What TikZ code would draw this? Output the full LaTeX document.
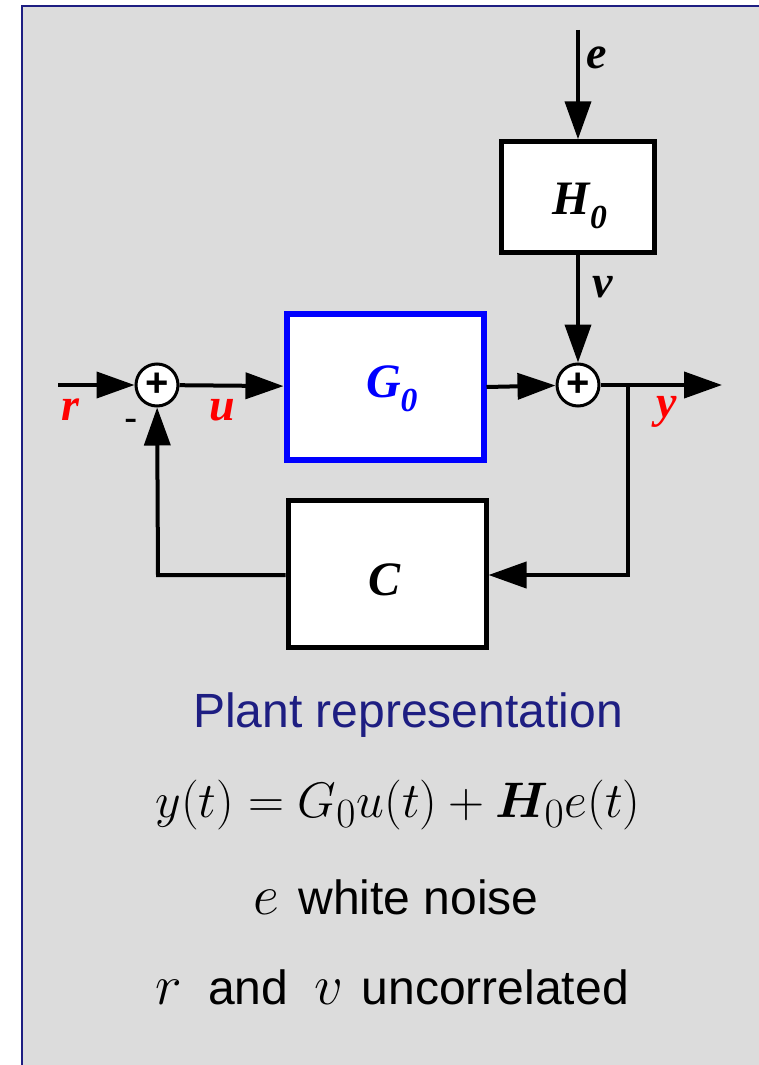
\documentclass[tikz,border=0pt]{standalone}
\usepackage{bm}
\usepackage{graphicx}
\usepackage[no-math]{fontspec}
\setmainfont{Liberation Sans}
\newfontfamily\tms{Liberation Serif}
\usetikzlibrary{arrows.meta}
\definecolor{navy}{RGB}{30,30,130}
\definecolor{bg}{RGB}{220,220,220}
\newcommand{\mymathbig}[1]{\scalebox{1.18}{$#1$}}
\tikzset{
  blk/.style={draw, fill=white, inner sep=0pt},
  sumj/.style={draw, circle, fill=white, line width=3pt, minimum size=42pt, inner sep=0pt,
    font=\fontsize{40}{40}\selectfont\bfseries},
  sig/.style={line width=4pt, -{Triangle[length=38pt,width=26pt]}},
  lbl/.style={font=\fontsize{46}{50}\selectfont\tms\bfseries\itshape, inner sep=0pt},
  blbl/.style={font=\fontsize{48}{50}\selectfont\tms\bfseries\itshape, inner sep=0pt},
  txt/.style={font=\Huge, scale=1.93, transform shape, inner sep=0pt},
}
\begin{document}
\begin{tikzpicture}[x=1pt,y=-1pt]
\useasboundingbox (0,0) rectangle (758,1065);
% frame
\fill[bg] (22,6) rectangle (760,1067);
\draw[navy, line width=2.5pt] (22,1070) -- (22,6) -- (762,6);
% blocks
\node[blk, line width=4.5pt, minimum width=153pt, minimum height=111pt] (H) at (578,197) {};
\node[blbl] at (580,206) {H\textsubscript{0}};
\node[blk, draw=blue, line width=6pt, minimum width=197pt, minimum height=146pt] (G) at (385,387) {};
\node[blbl, text=blue] at (392,389) {G\textsubscript{0}};
\node[blk, line width=5pt, minimum width=198pt, minimum height=147pt] (C) at (387,574) {};
\node[blbl] at (385,580) {C};
% summing junctions
\node[sumj] (S1) at (157,385) {+};
\node[sumj] (S2) at (578,385) {+};
% coordinates
\coordinate (rin) at (58,385);
\coordinate (ein) at (578,30);
\coordinate (yout) at (722,385);
\coordinate (br) at (628,385);
\coordinate (fb1) at (628,575);
\coordinate (fb2) at (158,575);
% connections
\draw[sig] (rin) -- (S1);
\draw[sig] (S1) -- (G);
\draw[sig] (G.east) -- (S2);
\draw[sig] (S2) -- (yout);
\draw[sig] (ein) -- (H);
\draw[sig] (H) -- (S2);
\draw[sig] (br) -- (fb1) -- (C.east |- fb1);
\draw[sig] (C.west |- fb2) -- (fb2) -- (S1);
% labels
\node[lbl, text=red] at (70,410) {r};
\node[font=\fontsize{40}{40}\selectfont] at (131,425) {-};
\node[lbl, text=red] at (222,410) {u};
\node[lbl, text=red] at (667,412) {y};
\node[lbl] at (597,58) {e};
\node[lbl] at (603,287) {v};
% text
\node[txt, text=navy] (t1) at (408,715) {Plant representation};
\node[txt, scale=1.04] (t2) at (398,805) {$y(t)=G_0u(t)+\bm{H}_0e(t)$};
\node[txt] (t3) at (396,897) {\mymathbig{e}\hspace{0.4em}white noise};
\node[txt] (t4) at (392,987) {\mymathbig{r}\hspace{0.55em}and\hspace{0.55em}\mymathbig{v}\hspace{0.38em}uncorrelated};
\end{tikzpicture}
\end{document}
